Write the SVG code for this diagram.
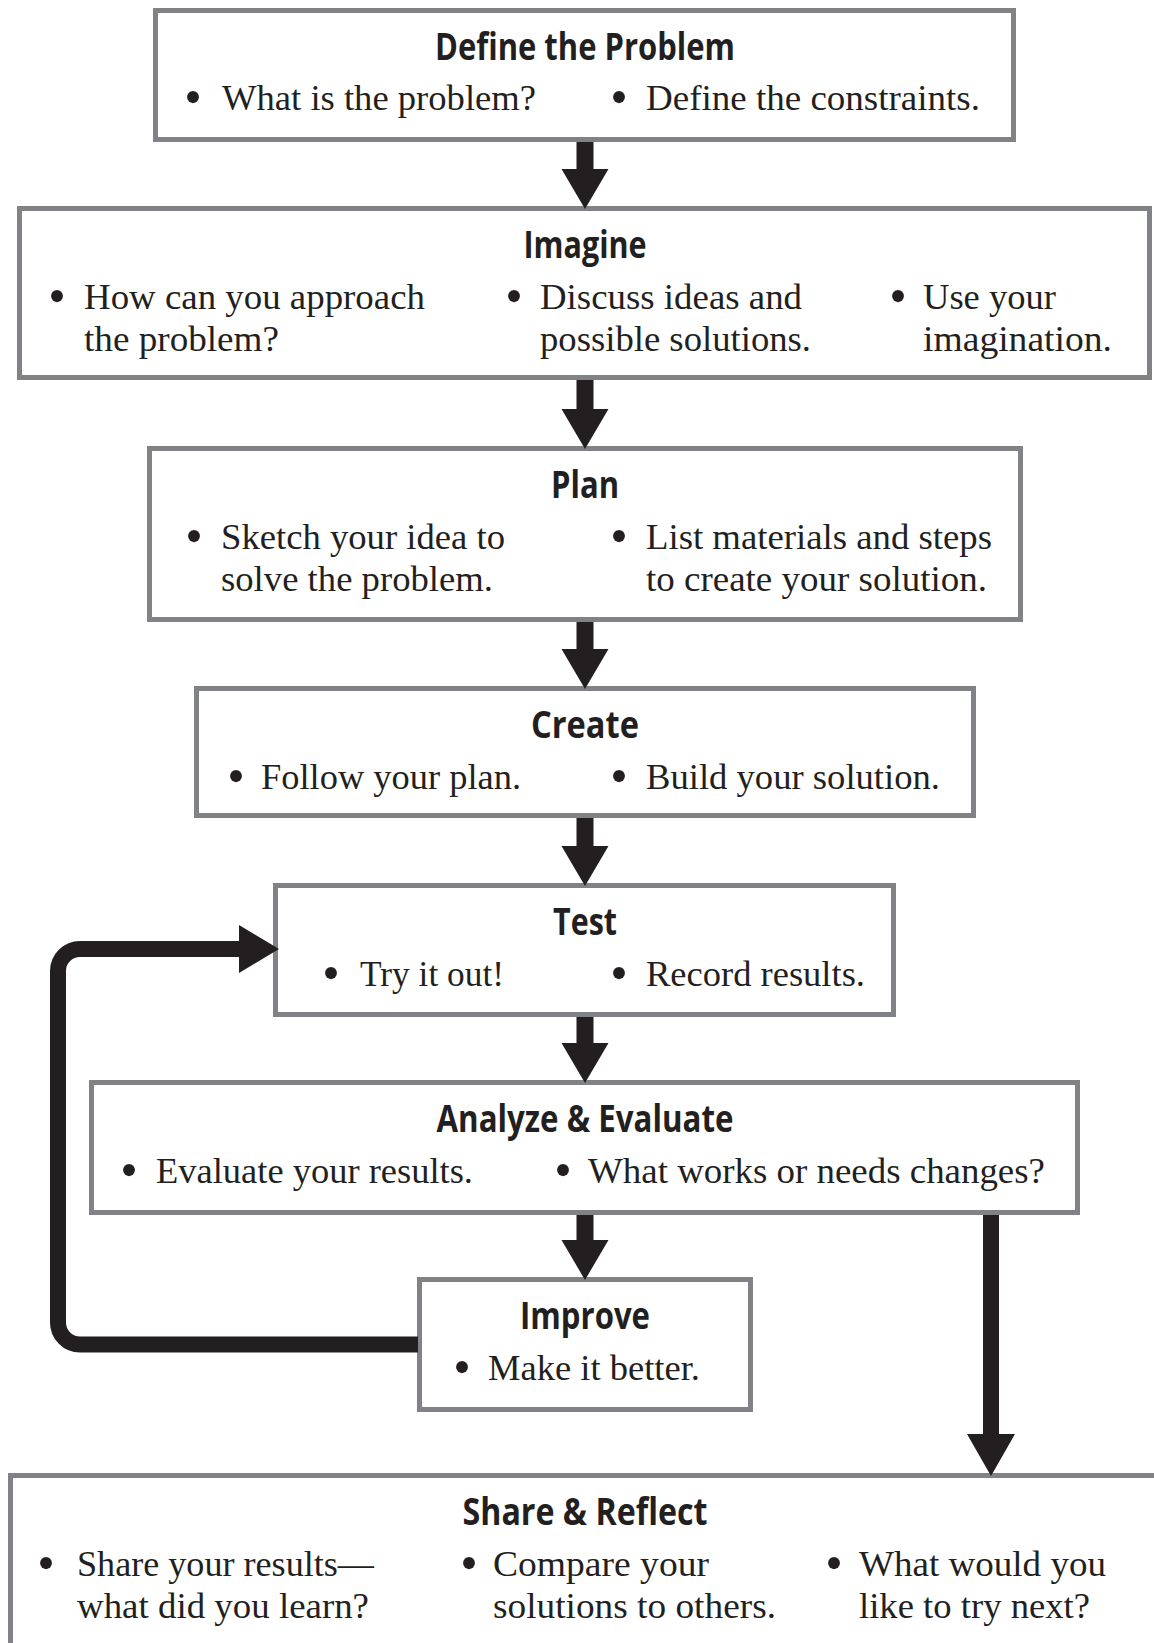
<svg xmlns="http://www.w3.org/2000/svg" width="1154" height="1643" viewBox="0 0 1154 1643">
<style>
.box{fill:#fff;stroke:#808285;stroke-width:5}
.title{font-family:"Open Sans","DejaVu Sans",sans-serif;font-weight:700;font-size:37px;fill:#231f20;text-anchor:middle}
.body{font-family:"Liberation Serif","Times New Roman",serif;font-size:36px;fill:#231f20}
.bul{font-family:"Liberation Serif","Times New Roman",serif;font-size:50px;fill:#231f20;text-anchor:middle}
.arrow{fill:#231f20}
.loop{fill:none;stroke:#231f20;stroke-width:16}
</style>
<rect width="1154" height="1643" fill="#fff"/>
<g id="define">
<rect class="box" x="155.5" y="10.5" width="858" height="129"/>
<text class="title" x="585" y="60" textLength="300" lengthAdjust="spacingAndGlyphs">Define the Problem</text>
<text class="bul" x="193" y="114">•</text>
<text class="body" x="222" y="110" textLength="314" lengthAdjust="spacingAndGlyphs">What is the problem?</text>
<text class="bul" x="619" y="114">•</text>
<text class="body" x="646" y="110" textLength="334" lengthAdjust="spacingAndGlyphs">Define the constraints.</text>
</g>
<g id="imagine">
<rect class="box" x="19.5" y="208.5" width="1130" height="169"/>
<text class="title" x="585" y="258" textLength="123" lengthAdjust="spacingAndGlyphs">Imagine</text>
<text class="bul" x="57" y="313">•</text>
<text class="body" x="84" y="309" textLength="341" lengthAdjust="spacingAndGlyphs">How can you approach</text>
<text class="body" x="84" y="351" textLength="195" lengthAdjust="spacingAndGlyphs">the problem?</text>
<text class="bul" x="514" y="313">•</text>
<text class="body" x="540" y="309" textLength="262" lengthAdjust="spacingAndGlyphs">Discuss ideas and</text>
<text class="body" x="540" y="351" textLength="271" lengthAdjust="spacingAndGlyphs">possible solutions.</text>
<text class="bul" x="898" y="313">•</text>
<text class="body" x="923" y="309" textLength="133" lengthAdjust="spacingAndGlyphs">Use your</text>
<text class="body" x="923" y="351" textLength="189" lengthAdjust="spacingAndGlyphs">imagination.</text>
</g>
<g id="plan">
<rect class="box" x="149.5" y="448.5" width="871" height="171"/>
<text class="title" x="585" y="498" textLength="68" lengthAdjust="spacingAndGlyphs">Plan</text>
<text class="bul" x="194" y="553">•</text>
<text class="body" x="221" y="549" textLength="284" lengthAdjust="spacingAndGlyphs">Sketch your idea to</text>
<text class="body" x="221" y="591" textLength="272" lengthAdjust="spacingAndGlyphs">solve the problem.</text>
<text class="bul" x="619" y="553">•</text>
<text class="body" x="646" y="549" textLength="346" lengthAdjust="spacingAndGlyphs">List materials and steps</text>
<text class="body" x="646" y="591" textLength="341" lengthAdjust="spacingAndGlyphs">to create your solution.</text>
</g>
<g id="create">
<rect class="box" x="196.5" y="688.5" width="777" height="127"/>
<text class="title" x="585" y="738" textLength="108" lengthAdjust="spacingAndGlyphs">Create</text>
<text class="bul" x="236" y="793">•</text>
<text class="body" x="261" y="789" textLength="260" lengthAdjust="spacingAndGlyphs">Follow your plan.</text>
<text class="bul" x="619" y="793">•</text>
<text class="body" x="646" y="789" textLength="294" lengthAdjust="spacingAndGlyphs">Build your solution.</text>
</g>
<g id="test">
<rect class="box" x="275.5" y="885.5" width="618" height="129"/>
<text class="title" x="585" y="935" textLength="64" lengthAdjust="spacingAndGlyphs">Test</text>
<text class="bul" x="331" y="990">•</text>
<text class="body" x="360" y="986" textLength="144" lengthAdjust="spacingAndGlyphs">Try it out!</text>
<text class="bul" x="619" y="990">•</text>
<text class="body" x="646" y="986" textLength="219" lengthAdjust="spacingAndGlyphs">Record results.</text>
</g>
<g id="analyze">
<rect class="box" x="91.5" y="1082.5" width="986" height="130"/>
<text class="title" x="585" y="1132" textLength="297" lengthAdjust="spacingAndGlyphs">Analyze &amp; Evaluate</text>
<text class="bul" x="129" y="1187">•</text>
<text class="body" x="156" y="1183" textLength="317" lengthAdjust="spacingAndGlyphs">Evaluate your results.</text>
<text class="bul" x="563" y="1187">•</text>
<text class="body" x="588" y="1183" textLength="457" lengthAdjust="spacingAndGlyphs">What works or needs changes?</text>
</g>
<g id="improve">
<rect class="box" x="419.5" y="1279.5" width="331" height="130"/>
<text class="title" x="585" y="1329" textLength="130" lengthAdjust="spacingAndGlyphs">Improve</text>
<text class="bul" x="462" y="1384">•</text>
<text class="body" x="488" y="1380" textLength="212" lengthAdjust="spacingAndGlyphs">Make it better.</text>
</g>
<g id="share">
<rect class="box" x="10.5" y="1475.5" width="1200" height="300"/>
<text class="title" x="585" y="1525" textLength="245" lengthAdjust="spacingAndGlyphs">Share &amp; Reflect</text>
<text class="bul" x="46" y="1580">•</text>
<text class="body" x="77" y="1576" textLength="297" lengthAdjust="spacingAndGlyphs">Share your results—</text>
<text class="body" x="77" y="1618" textLength="292" lengthAdjust="spacingAndGlyphs">what did you learn?</text>
<text class="bul" x="469" y="1580">•</text>
<text class="body" x="493" y="1576" textLength="216" lengthAdjust="spacingAndGlyphs">Compare your</text>
<text class="body" x="493" y="1618" textLength="283" lengthAdjust="spacingAndGlyphs">solutions to others.</text>
<text class="bul" x="834" y="1580">•</text>
<text class="body" x="859" y="1576" textLength="247" lengthAdjust="spacingAndGlyphs">What would you</text>
<text class="body" x="859" y="1618" textLength="231" lengthAdjust="spacingAndGlyphs">like to try next?</text>
</g>
<g id="connectors">
<path class="arrow" d="M576.5,142 H593.5 V169 H608.5 L585,209 L561.5,169 H576.5 Z"/>
<path class="arrow" d="M576.5,380 H593.5 V409 H608.5 L585,449 L561.5,409 H576.5 Z"/>
<path class="arrow" d="M576.5,622 H593.5 V649 H608.5 L585,689 L561.5,649 H576.5 Z"/>
<path class="arrow" d="M576.5,818 H593.5 V846 H608.5 L585,886 L561.5,846 H576.5 Z"/>
<path class="arrow" d="M576.5,1017 H593.5 V1043 H608.5 L585,1083 L561.5,1043 H576.5 Z"/>
<path class="arrow" d="M576.5,1215 H593.5 V1240 H608.5 L585,1280 L561.5,1240 H576.5 Z"/>
<path class="arrow" d="M983,1215 H999 V1434 H1015 L991,1476 L967,1434 H983 Z"/>
<path class="loop" d="M418,1344.5 H80 A22,22 0 0 1 58,1322.5 V971 A22,22 0 0 1 80,949 H241"/>
<path class="arrow" d="M239,925 L279,949 L239,973 Z"/>
</g>
</svg>
